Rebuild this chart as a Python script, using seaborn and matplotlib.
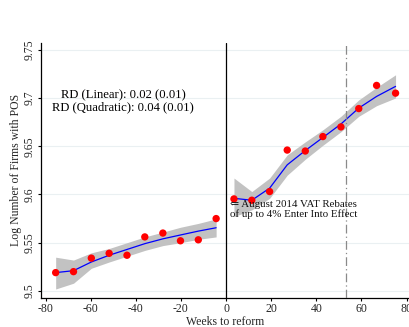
import matplotlib
matplotlib.use("Agg")
import matplotlib.pyplot as plt
import seaborn as sns
import pandas as pd

# ---- data ----
weeks_pre = [-75.5, -67.6, -59.7, -51.8, -43.9, -36.0, -28.0, -20.2, -12.3, -4.4]
bins_pre = [9.519, 9.520, 9.534, 9.539, 9.537, 9.556, 9.560, 9.552, 9.553, 9.575]
fit_pre = [9.519, 9.521, 9.530, 9.537, 9.543, 9.549, 9.554, 9.558, 9.562, 9.5655]
lo_pre = [9.502, 9.508, 9.5235, 9.530, 9.536, 9.542, 9.547, 9.550, 9.5535, 9.556]
hi_pre = [9.535, 9.532, 9.5395, 9.544, 9.550, 9.556, 9.561, 9.566, 9.570, 9.5747]

weeks_post = [3.5, 11.4, 19.3, 27.1, 35.1, 42.9, 50.9, 58.8, 66.7, 75.1]
bins_post = [9.5954, 9.594, 9.603, 9.646, 9.645, 9.660, 9.670, 9.689, 9.713, 9.705]
fit_post = [9.596, 9.594, 9.6065, 9.6307, 9.6455, 9.659, 9.673, 9.6895, 9.7016, 9.712]
lo_post = [9.577, 9.584, 9.596, 9.620, 9.6365, 9.651, 9.665, 9.681, 9.692, 9.700]
hi_post = [9.617, 9.603, 9.617, 9.641, 9.6545, 9.667, 9.681, 9.698, 9.711, 9.724]

x_ticks = [-80, -60, -40, -20, 0, 20, 40, 60, 80]
y_ticks = [9.5, 9.55, 9.6, 9.65, 9.7, 9.75]
y_ticklabels = ["9.5", "9.55", "9.6", "9.65", "9.7", "9.75"]
reform_week = 0
vat_week = 53.3
rd_text = "RD (Linear): 0.02 (0.01)\nRD (Quadratic): 0.04 (0.01)"
note_text = "\u21d0 August 2014 VAT Rebates\nof up to 4% Enter Into Effect"

sns.set_style("white")
serif = ["Liberation Serif", "DejaVu Serif"]
plt.rcParams["font.family"] = serif

fig = plt.figure(figsize=(4.10, 3.27), dpi=100)
ax = fig.add_axes([0.1, 0.0896, 0.9, 0.779])

for y in y_ticks:
    ax.axhline(y, color="#eaf0f2", lw=0.8, zorder=0)

for w, lo, hi, f, b in [(weeks_pre, lo_pre, hi_pre, fit_pre, bins_pre),
                        (weeks_post, lo_post, hi_post, fit_post, bins_post)]:
    ax.fill_between(w, lo, hi, color="#c2c2c2", lw=0, zorder=1)
    df = pd.DataFrame({"w": w, "fit": f, "bin": b})
    sns.lineplot(data=df, x="w", y="fit", ax=ax, color="#0000ff", lw=0.9, zorder=2)
    sns.scatterplot(data=df, x="w", y="bin", ax=ax, color="#ff0000", s=28,
                    edgecolor="none", zorder=3)

ax.axvline(reform_week, color="black", lw=0.9, zorder=4)
ax.axvline(vat_week, color="#8a8a8a", lw=0.9, ls=(0, (7, 2.5, 1, 2.5)), zorder=4)

ax.text(-45.6, 9.6965, rd_text, ha="center", va="center", fontsize=9.1,
        linespacing=1.0, color="black")
ax.text(1.7, 9.5845, note_text, ha="left", va="center", fontsize=7.8,
        linespacing=1.0, color="#111111", zorder=5)

ax.set_xlim(-82, 81.5)
ax.set_ylim(9.493, 9.757)
ax.set_xticks(x_ticks)
ax.set_xticklabels([str(t) for t in x_ticks])
ax.set_yticks(y_ticks)
ax.set_yticklabels(y_ticklabels, rotation=90, va="center")
ax.set_xlabel("Weeks to reform", fontsize=8.5, labelpad=0.5)
ax.set_ylabel("Log Number of Firms with POS", fontsize=8.5, labelpad=1)
ax.tick_params(axis="both", labelsize=8.5, length=2.5, width=0.8, direction="out",
               color="black", pad=1.2, bottom=True, left=True)
for s in ["top", "right"]:
    ax.spines[s].set_visible(False)
for s in ["left", "bottom"]:
    ax.spines[s].set_color("black")
    ax.spines[s].set_linewidth(0.9)

fig.savefig("out.png", dpi=100)
